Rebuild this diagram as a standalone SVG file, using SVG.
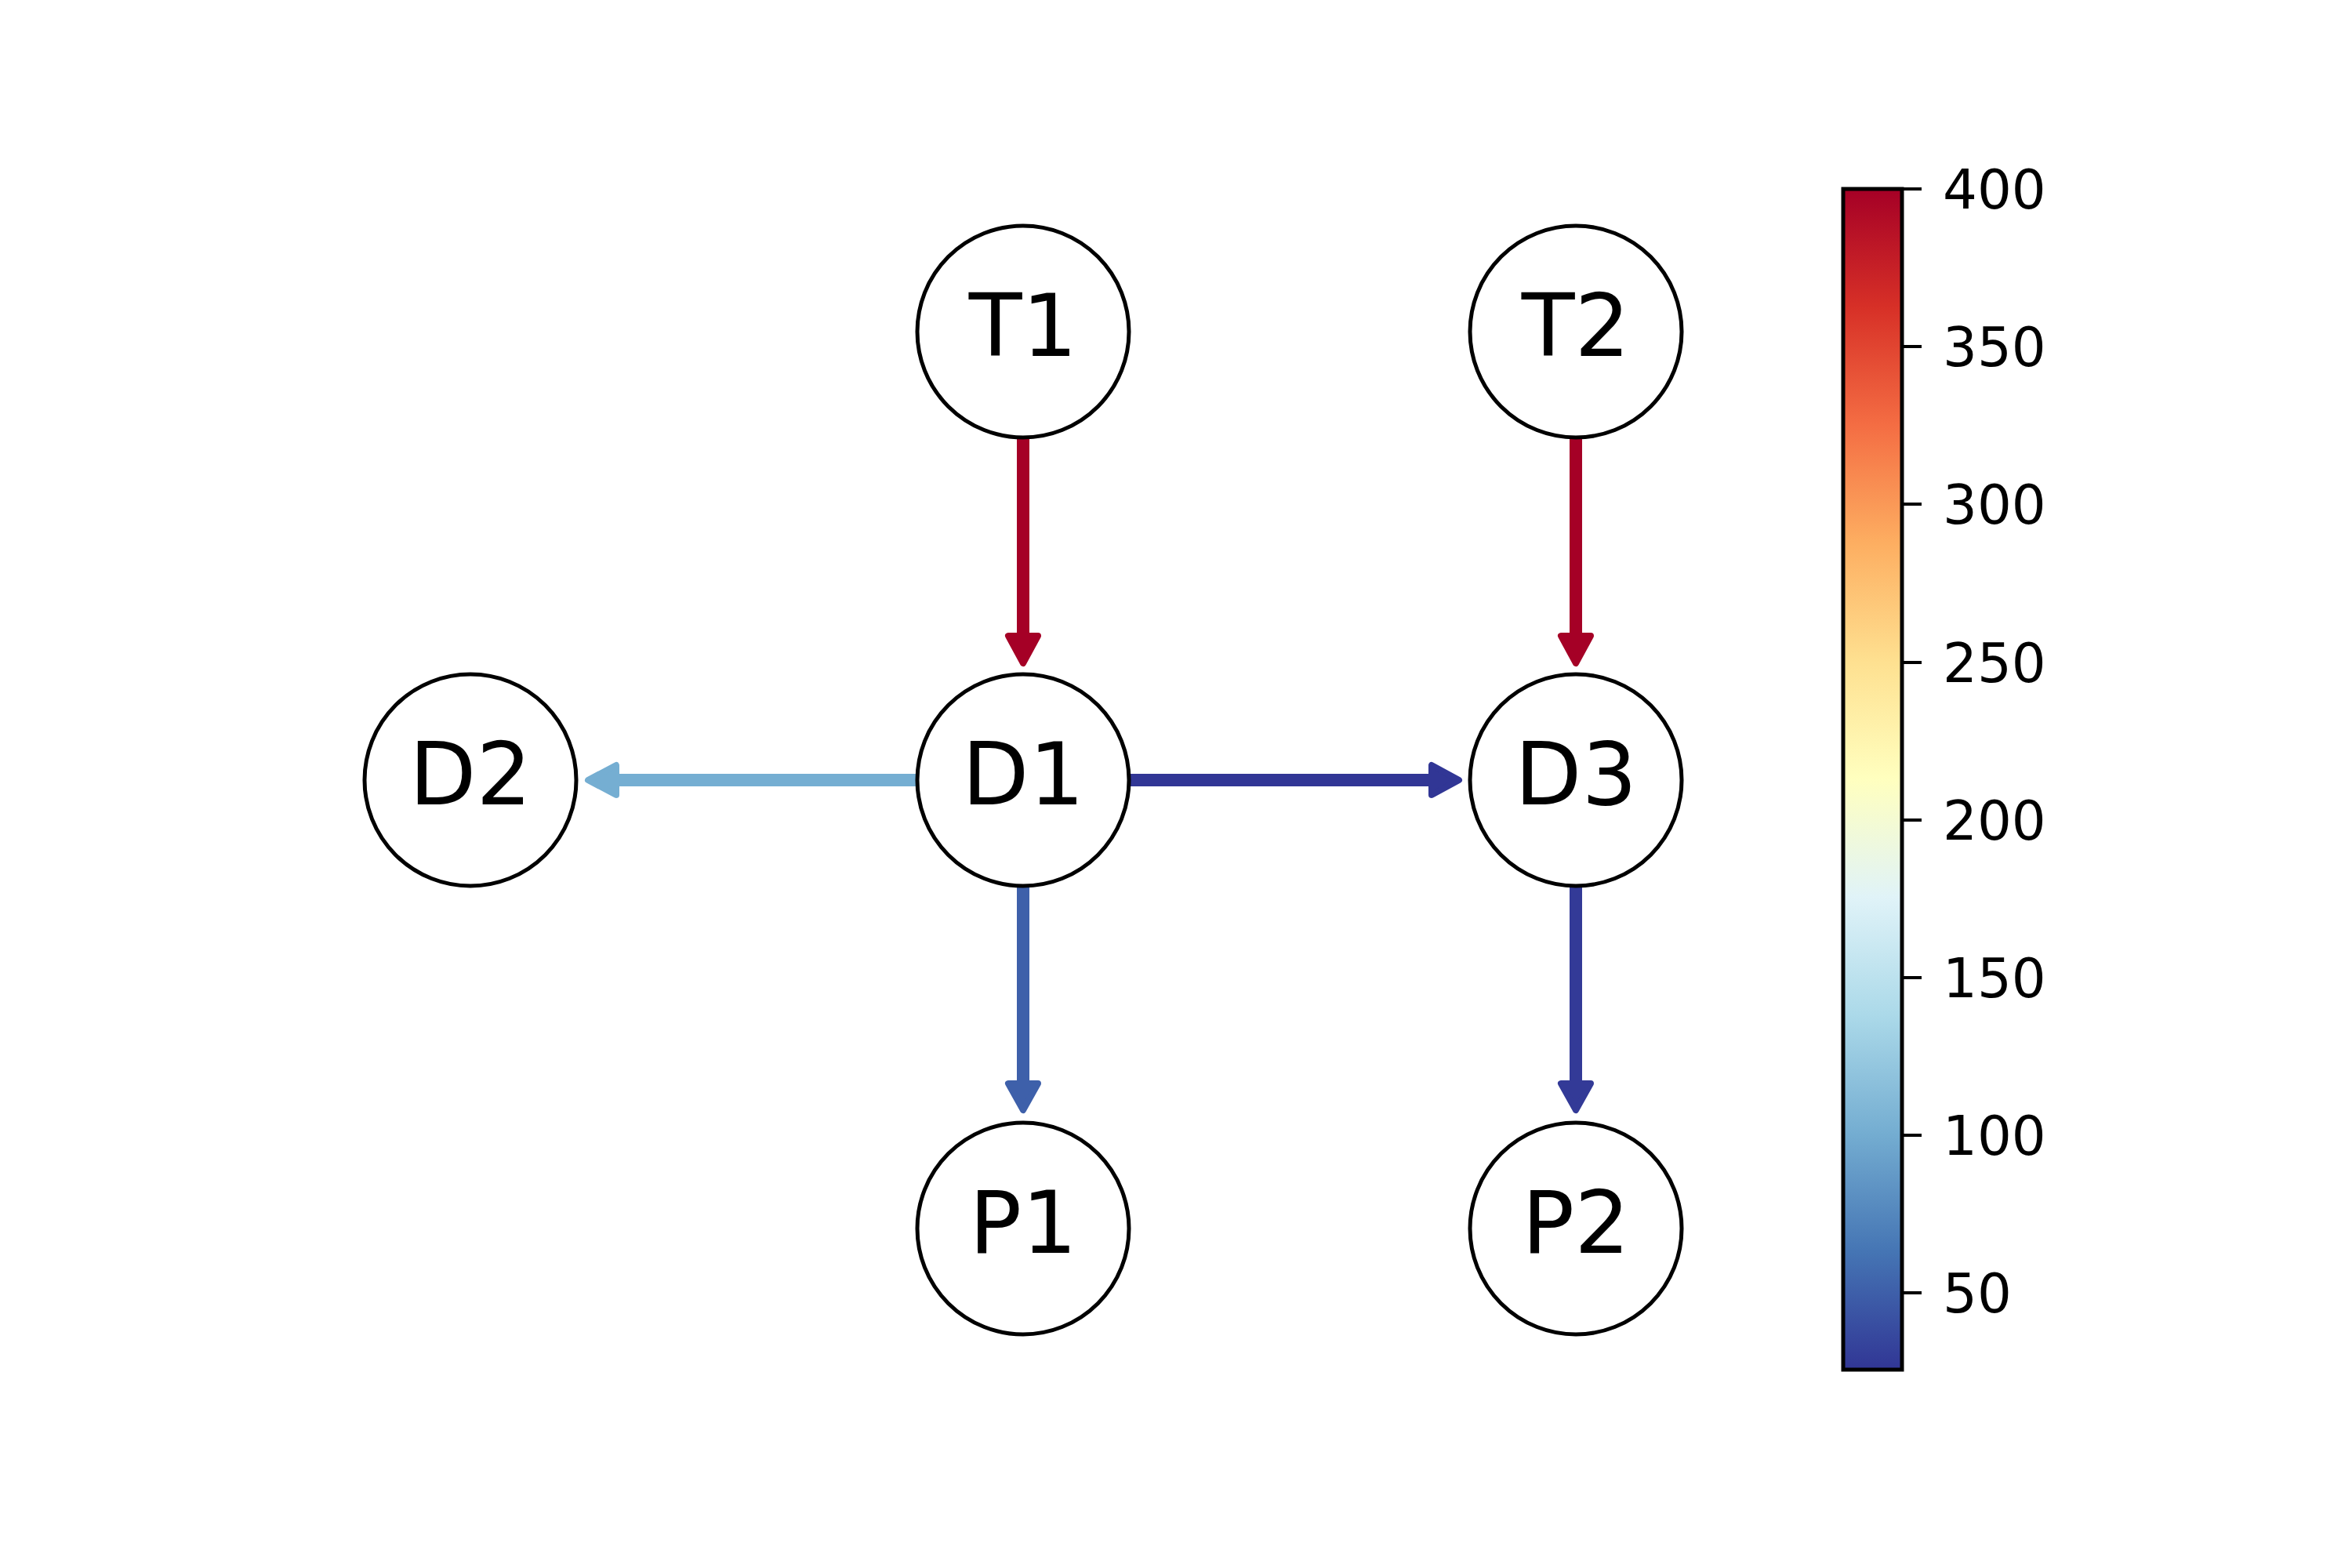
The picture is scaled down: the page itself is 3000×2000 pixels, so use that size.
<svg xmlns="http://www.w3.org/2000/svg" width="3000" height="2000" viewBox="0 0 3000 2000">
<style>
.node circle{fill:#ffffff;stroke:#000000;stroke-width:5}
.node text{font-family:"DejaVu Sans","Liberation Sans",sans-serif;font-size:111px;fill:#000000;text-anchor:middle}
.edge line{stroke-width:16;stroke-linecap:butt;fill:none}
.edge polygon{stroke-width:8;stroke-linejoin:round}
.red line{stroke:#a50026}.red polygon{fill:#a50026;stroke:#a50026}
.navy line{stroke:#313695}.navy polygon{fill:#313695;stroke:#313695}
.navy2 line{stroke:#333a97}.navy2 polygon{fill:#333a97;stroke:#333a97}
.mid line{stroke:#3e60aa}.mid polygon{fill:#3e60aa;stroke:#3e60aa}
.light line{stroke:#75aed2}.light polygon{fill:#75aed2;stroke:#75aed2}
.tick{stroke:#000000;stroke-width:4}
.tl{font-family:"DejaVu Sans","Liberation Sans",sans-serif;font-size:69px;fill:#000000}
</style>
<defs>
<linearGradient id="cmap" x1="0" y1="1" x2="0" y2="0">
<stop offset="0" stop-color="#313695"/>
<stop offset="0.1" stop-color="#4575b4"/>
<stop offset="0.2" stop-color="#74add1"/>
<stop offset="0.3" stop-color="#abd9e9"/>
<stop offset="0.4" stop-color="#e0f3f8"/>
<stop offset="0.5" stop-color="#ffffbf"/>
<stop offset="0.6" stop-color="#fee090"/>
<stop offset="0.7" stop-color="#fdae61"/>
<stop offset="0.8" stop-color="#f46d43"/>
<stop offset="0.9" stop-color="#d73027"/>
<stop offset="1" stop-color="#a50026"/>
</linearGradient>
</defs>
<rect width="3000" height="2000" fill="#ffffff"/>
<g id="edges">
<g class="edge red" id="e-T1-D1"><line x1="1305" y1="558" x2="1305" y2="815"/><polygon points="1305,846 1286,811 1324,811"/></g>
<g class="edge red" id="e-T2-D3"><line x1="2010" y1="558" x2="2010" y2="815"/><polygon points="2010,846 1991,811 2029,811"/></g>
<g class="edge navy" id="e-D1-D3"><line x1="1440" y1="995" x2="1830" y2="995"/><polygon points="1861,995 1826,976 1826,1014"/></g>
<g class="edge light" id="e-D1-D2"><line x1="1170" y1="995" x2="783" y2="995"/><polygon points="750,995 786,976 786,1014"/></g>
<g class="edge mid" id="e-D1-P1"><line x1="1305" y1="1130" x2="1305" y2="1386"/><polygon points="1305,1416 1286,1382 1324,1382"/></g>
<g class="edge navy2" id="e-D3-P2"><line x1="2010" y1="1130" x2="2010" y2="1386"/><polygon points="2010,1416 1991,1382 2029,1382"/></g>
</g>
<g id="T1" class="node"><circle cx="1305" cy="423" r="135"/><text x="1305" y="454">T1</text></g>
<g id="T2" class="node"><circle cx="2010" cy="423" r="135"/><text x="2010" y="454">T2</text></g>
<g id="D2" class="node"><circle cx="600" cy="995" r="135"/><text x="600" y="1026">D2</text></g>
<g id="D1" class="node"><circle cx="1305" cy="995" r="135"/><text x="1305" y="1026">D1</text></g>
<g id="D3" class="node"><circle cx="2010" cy="995" r="135"/><text x="2010" y="1026">D3</text></g>
<g id="P1" class="node"><circle cx="1305" cy="1567" r="135"/><text x="1305" y="1598">P1</text></g>
<g id="P2" class="node"><circle cx="2010" cy="1567" r="135"/><text x="2010" y="1598">P2</text></g>
<g id="colorbar">
<rect x="2351" y="241" width="75" height="1506" fill="url(#cmap)" stroke="#000000" stroke-width="5"/>
<line class="tick" x1="2426" y1="241" x2="2451" y2="241"/>
<line class="tick" x1="2426" y1="442" x2="2451" y2="442"/>
<line class="tick" x1="2426" y1="643" x2="2451" y2="643"/>
<line class="tick" x1="2426" y1="845" x2="2451" y2="845"/>
<line class="tick" x1="2426" y1="1046" x2="2451" y2="1046"/>
<line class="tick" x1="2426" y1="1247" x2="2451" y2="1247"/>
<line class="tick" x1="2426" y1="1448" x2="2451" y2="1448"/>
<line class="tick" x1="2426" y1="1649" x2="2451" y2="1649"/>
<text class="tl" x="2478" y="266">400</text>
<text class="tl" x="2478" y="467">350</text>
<text class="tl" x="2478" y="668">300</text>
<text class="tl" x="2478" y="870">250</text>
<text class="tl" x="2478" y="1071">200</text>
<text class="tl" x="2478" y="1272">150</text>
<text class="tl" x="2478" y="1473">100</text>
<text class="tl" x="2478" y="1674">50</text>
</g>
</svg>
